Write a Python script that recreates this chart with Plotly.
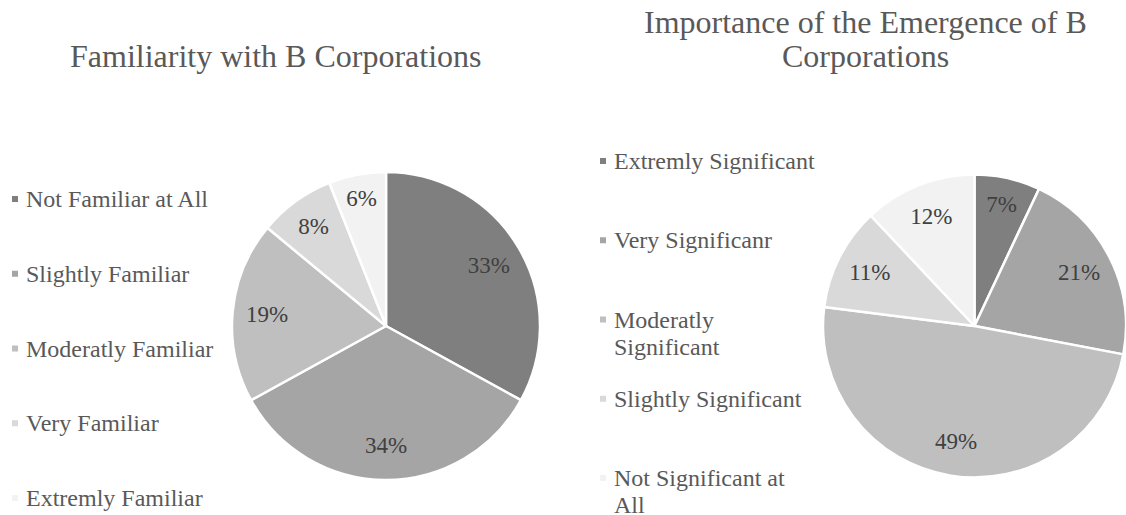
import plotly.graph_objects as go

# ข้อมูลของกราฟ
familiar_labels = ["Not Familiar at All", "Slightly Familiar", "Moderatly Familiar",
                   "Very Familiar", "Extremly Familiar"]
familiar_values = [33, 34, 19, 8, 6]

importance_labels = ["Extremly Significant", "Very Significanr", "Moderatly<br>Significant",
                     "Slightly Significant", "Not Significant at<br>All"]
importance_values = [7, 21, 49, 11, 12]

slice_colors = ["#7f7f7f", "#a5a5a5", "#bfbfbf", "#d9d9d9", "#f2f2f2"]

FONT = "Liberation Serif"
W, H = 1126, 515


def pie_domain(cx, cy, r):
    x0, x1 = max(cx - r, 0) / W, min(cx + r, W) / W
    return dict(x=[x0, x1], y=[(H - cy - r) / H, (H - cy + r) / H])


fig = go.Figure()


def add_pie(labels, values, dom):
    # ชั้นล่าง: พายเต็มวง ไม่มีตัวเลข
    fig.add_trace(go.Pie(
        labels=labels, values=values, sort=False, direction="clockwise",
        marker=dict(colors=slice_colors, line=dict(color="white", width=2.5)),
        textinfo="none", domain=dom, showlegend=False, hoverinfo="label+percent",
    ))
    # ชั้นบน: วงแหวนโปร่งใส ใช้แค่วางตัวเลขค่อนไปทางขอบแบบ Excel
    fig.add_trace(go.Pie(
        labels=labels, values=values, sort=False, direction="clockwise", hole=0.55,
        marker=dict(colors=["rgba(0,0,0,0)"] * len(values), line=dict(width=0)),
        textinfo="percent", textposition="inside", insidetextorientation="horizontal",
        textfont=dict(family=FONT, size=23, color="#404040"),
        domain=dom, showlegend=False, hoverinfo="skip",
    ))


add_pie(familiar_labels, familiar_values, pie_domain(386, 326, 154))
add_pie(importance_labels, importance_values, pie_domain(977, 326, 154))


def add_legend(labels, xa, ya):
    """วาด legend แบบ Excel เอง (ช่องห่างระหว่างรายการกว้างกว่าของ plotly)"""
    idx = list(range(len(labels)))
    fig.add_trace(go.Scatter(
        x=[0] * len(labels), y=idx, mode="markers",
        marker=dict(symbol="square", size=6, color=slice_colors),
        xaxis=xa, yaxis=ya, showlegend=False, hoverinfo="skip",
    ))
    for i, lab in enumerate(labels):
        # แยกบรรทัดเอง เพื่อให้ระยะบรรทัดแคบแบบ Excel
        for j, line in enumerate(lab.split("<br>")):
            fig.add_annotation(
                x=0, y=i, xref=xa, yref=ya, text=line,
                xanchor="left", yanchor="middle", align="left", showarrow=False,
                xshift=9, yshift=-j * 27,
                font=dict(family=FONT, size=24, color="#595959"),
            )


add_legend(familiar_labels, "x", "y")
add_legend(importance_labels, "x2", "y2")

# แกนซ่อนสำหรับ legend: index 0..4 -> ตำแหน่งแนวตั้งของแต่ละรายการ
left_step, left_top = 74.75, 199
right_step, right_top = 79.25, 161
fig.update_layout(
    xaxis=dict(domain=[0, 1], range=[-15, W - 15], visible=False, fixedrange=True),
    yaxis=dict(domain=[0, 1], range=[(H - left_top) / left_step, -left_top / left_step],
               visible=False, fixedrange=True),
    xaxis2=dict(domain=[0, 1], range=[-603, W - 603], visible=False, fixedrange=True,
                anchor="y2", overlaying="x"),
    yaxis2=dict(domain=[0, 1], range=[(H - right_top) / right_step, -right_top / right_step],
                visible=False, fixedrange=True, anchor="x2", overlaying="y"),
)

title_font = dict(family=FONT, size=32, color="#595959")
fig.add_annotation(x=276 / W, y=1 - 56 / H, xref="paper", yref="paper",
                   text="Familiarity with B Corporations", showarrow=False,
                   xanchor="center", yanchor="middle", font=title_font)
fig.add_annotation(x=865 / W, y=1 - 22 / H, xref="paper", yref="paper",
                   text="Importance of the Emergence of B", showarrow=False,
                   xanchor="center", yanchor="middle", font=title_font)
fig.add_annotation(x=865 / W, y=1 - 56 / H, xref="paper", yref="paper",
                   text="Corporations", showarrow=False,
                   xanchor="center", yanchor="middle", font=title_font)

fig.update_layout(
    width=W, height=H, margin=dict(l=0, r=0, t=0, b=0),
    paper_bgcolor="white", plot_bgcolor="white",
    font=dict(family=FONT, color="#595959"),
)

# ตัด margin ของ body ออก ให้กราฟชิดมุมหน้าต่างพอดี
fig.write_html("out.html", config={"displayModeBar": False},
               post_script="document.body.style.margin='0';")
